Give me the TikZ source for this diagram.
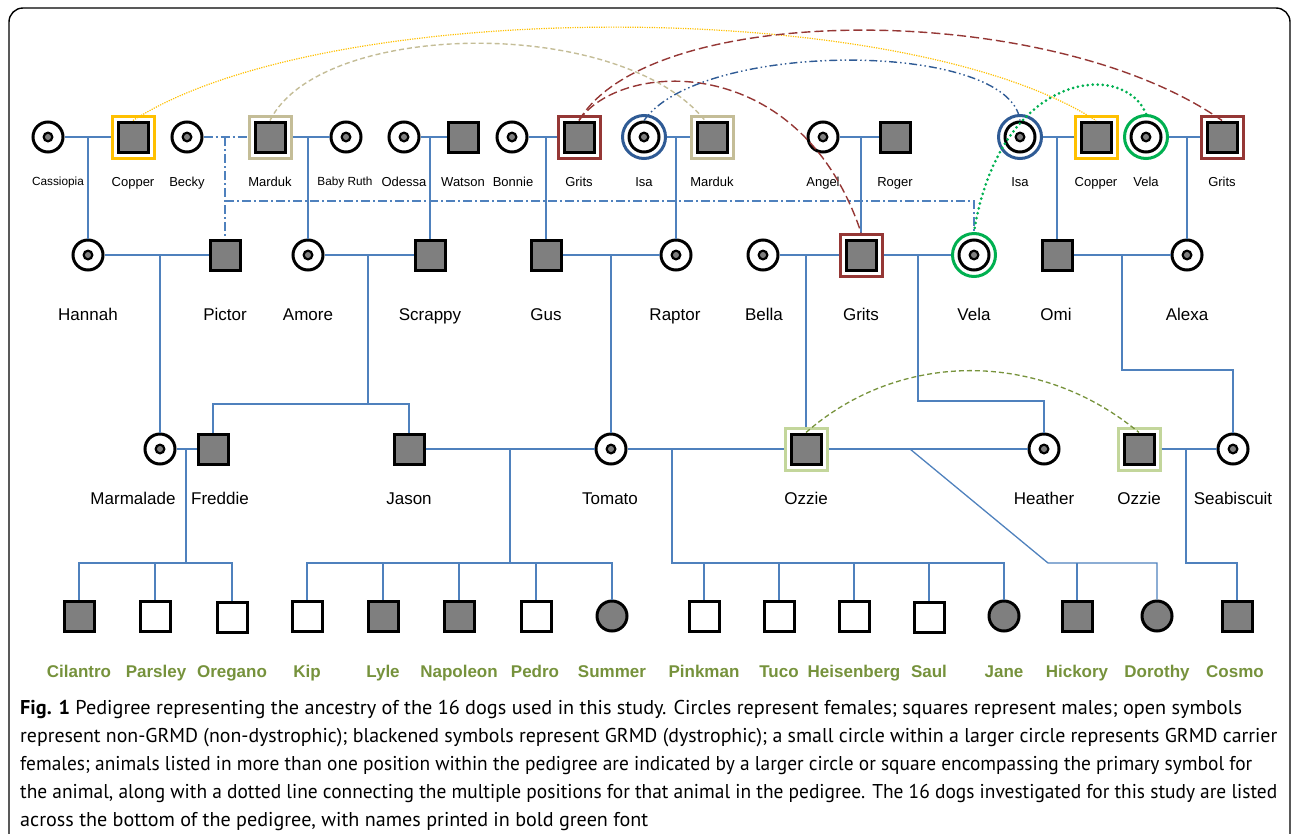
\documentclass[tikz,border=0pt]{standalone}
\usepackage{xcolor}
\definecolor{LinkBlue}{HTML}{4F81BD}
\definecolor{SymGray}{HTML}{7F7F7F}
\definecolor{CopperGold}{HTML}{FFC000}
\definecolor{MardukTan}{HTML}{C4BD97}
\definecolor{GritsRed}{HTML}{953735}
\definecolor{IsaBlue}{HTML}{2F5B95}
\definecolor{VelaGreen}{HTML}{00B050}
\definecolor{OzzieGreen}{HTML}{C3D69B}
\definecolor{OzzieLink}{HTML}{77933C}
\definecolor{StudyGreen}{HTML}{76923C}
\usepackage{graphicx}
\usepackage{fontspec}
\setmainfont{Liberation Sans}
\newfontfamily\capfont{PT Sans}
\usepackage{tikz}
\usetikzlibrary{calc}

% one caption line, set to the width it has in the figure
\newcommand{\capline}[2]{\resizebox{#1}{\height}{#2}}

\tikzset{
  male/.style={rectangle,draw=black,line width=3pt,fill=SymGray,minimum size=30pt,inner sep=0pt},
  openmale/.style={male,fill=white},
  female/.style={circle,draw=black,line width=3pt,fill=SymGray,minimum size=30pt,inner sep=0pt},
  carrier/.style={female,fill=white,path picture={
      \fill[black] (path picture bounding box.center) circle (5.5pt);
      \fill[SymGray] (path picture bounding box.center) circle (3pt);}},
  sqring/.style={rectangle,draw=#1,line width=3pt,fill=white,minimum size=42pt,inner sep=0pt},
  ciring/.style={circle,draw=#1,line width=3pt,fill=white,minimum size=43pt,inner sep=0pt},
  link/.style={LinkBlue,line width=1.3pt},
  linkdd/.style={link,dash pattern=on 9pt off 3pt on 2pt off 3pt},
  nameA/.style={anchor=base,inner sep=0pt,font=\fontsize{13}{15}\selectfont},
  nameB/.style={anchor=base,inner sep=0pt,font=\fontsize{17}{20}\selectfont},
  study/.style={anchor=base,inner sep=0pt,font=\fontsize{17}{20}\selectfont\bfseries,text=StudyGreen},
  captext/.style={anchor=base west,inner sep=0pt,font=\capfont\fontsize{20}{23}\selectfont}
}

\begin{document}
\begin{tikzpicture}[x=1pt,y=-1pt]
  \useasboundingbox (0,0) rectangle (1292,833);
  \draw[line width=1.4pt,rounded corners=14pt] (9,8) rectangle (1290,850);

  % first generation
  \node[carrier] (cassiopia) at (48,137) {};
  \node[sqring=CopperGold] (copperAr) at (133,137) {};
  \node[male] (copperA) at (133,137) {};
  \node[carrier] (becky) at (187,137) {};
  \node[sqring=MardukTan] (mardukAr) at (270,137) {};
  \node[male] (mardukA) at (270,137) {};
  \node[carrier] (babyruth) at (346,137) {};
  \node[carrier] (odessa) at (404,137) {};
  \node[male] (watson) at (463,137) {};
  \node[carrier] (bonnie) at (512,137) {};
  \node[sqring=GritsRed] (gritsAr) at (579,137) {};
  \node[male] (gritsA) at (579,137) {};
  \node[ciring=IsaBlue] (isaAr) at (644,137) {};
  \node[carrier] (isaA) at (644,137) {};
  \node[sqring=MardukTan] (mardukBr) at (712,137) {};
  \node[male] (mardukB) at (712,137) {};
  \node[carrier] (angel) at (823,137) {};
  \node[male] (roger) at (895,137) {};
  \node[ciring=IsaBlue] (isaBr) at (1020,137) {};
  \node[carrier] (isaB) at (1020,137) {};
  \node[sqring=CopperGold] (copperBr) at (1096,137) {};
  \node[male] (copperB) at (1096,137) {};
  \node[ciring=VelaGreen] (velaAr) at (1146,137) {};
  \node[carrier] (velaA) at (1146,137) {};
  \node[sqring=GritsRed] (gritsBr) at (1222,137) {};
  \node[male] (gritsB) at (1222,137) {};

  \node[nameA,font=\fontsize{11.8}{14}\selectfont] (cassiopiaT) at (58,185) {Cassiopia};
  \node[nameA,font=\fontsize{11.8}{14}\selectfont] (babyruthT) at (345,185) {Baby Ruth};
  \foreach \x/\t [count=\i] in {133/Copper,187/Becky,270/Marduk,404/Odessa,463/Watson,513/Bonnie,
      579/Grits,644/Isa,712/Marduk,823/Angel,895/Roger,1020/Isa,1096/Copper,1146/Vela,1222/Grits}
    \node[nameA] (topT\i) at (\x,186) {\t};

  % second generation
  \node[carrier] (hannah) at (88,255) {};
  \node[male] (pictor) at (225,255) {};
  \node[carrier] (amore) at (308,255) {};
  \node[male] (scrappy) at (430,255) {};
  \node[male] (gus) at (546,255) {};
  \node[carrier] (raptor) at (676,255) {};
  \node[carrier] (bella) at (763,255) {};
  \node[sqring=GritsRed] (gritsCr) at (861,255) {};
  \node[male] (gritsC) at (861,255) {};
  \node[ciring=VelaGreen] (velaBr) at (974,255) {};
  \node[carrier] (velaB) at (974,255) {};
  \node[male] (omi) at (1057,255) {};
  \node[carrier] (alexa) at (1187,255) {};

  \foreach \x/\t [count=\i] in {88/Hannah,225/Pictor,308/Amore,430/Scrappy,546/Gus,675/Raptor,
      764/Bella,861/Grits,974/Vela,1056/Omi,1187/Alexa}
    \node[nameB] (midT\i) at (\x,320) {\t};

  % third generation
  \node[carrier] (marmalade) at (160,449) {};
  \node[male] (freddie) at (213,449) {};
  \node[male] (jason) at (409,449) {};
  \node[carrier] (tomato) at (611,449) {};
  \node[sqring=OzzieGreen] (ozzieAr) at (806,449) {};
  \node[male] (ozzieA) at (806,449) {};
  \node[carrier] (heather) at (1044,449) {};
  \node[sqring=OzzieGreen] (ozzieBr) at (1139,449) {};
  \node[male] (ozzieB) at (1139,449) {};
  \node[carrier] (seabiscuit) at (1233,449) {};

  \foreach \x/\t [count=\i] in {133/Marmalade,220/Freddie,409/Jason,610/Tomato,806/Ozzie,
      1044/Heather,1139/Ozzie,1233/Seabiscuit}
    \node[nameB] (lowT\i) at (\x,504) {\t};

  % the 16 study dogs
  \node[male] (cilantro) at (79,616) {};
  \node[openmale] (parsley) at (155,616) {};
  \node[openmale] (oregano) at (232,617) {};
  \node[openmale] (kip) at (307,616) {};
  \node[male] (lyle) at (383,616) {};
  \node[male] (napoleon) at (459,616) {};
  \node[openmale] (pedro) at (536,616) {};
  \node[female] (summer) at (612,616) {};
  \node[openmale] (pinkman) at (704,616) {};
  \node[openmale] (tuco) at (779,616) {};
  \node[openmale] (heisenberg) at (854,616) {};
  \node[openmale] (saul) at (929,617) {};
  \node[female] (jane) at (1004,616) {};
  \node[male] (hickory) at (1077,616) {};
  \node[female] (dorothy) at (1157,616) {};
  \node[male] (cosmo) at (1237,616) {};

  \foreach \x/\t [count=\i] in {79/Cilantro,156/Parsley,232/Oregano,307/Kip,383/Lyle,459/Napoleon,
      535/Pedro,612/Summer,704/Pinkman,779/Tuco,854/Heisenberg,929/Saul,1004/Jane,1077/Hickory,
      1157/Dorothy,1235/Cosmo}
    \node[study] (dogT\i) at (\x,677) {\t};

  % matings, first generation
  \draw[link] (cassiopia) -- (copperAr);
  \draw[link] (hannah |- cassiopia) -- (hannah);
  \draw[linkdd] (becky) -- (mardukAr);
  \draw[linkdd] (pictor |- becky) -- (pictor);
  \draw[linkdd] (pictor |- 0,201) -- (velaBr |- 0,201) -- (velaBr);
  \draw[link] (mardukAr) -- (babyruth);
  \draw[link] (amore |- babyruth) -- (amore);
  \draw[link] (odessa) -- (watson);
  \draw[link] (scrappy |- watson) -- (scrappy);
  \draw[link] (bonnie) -- (gritsAr);
  \draw[link] (gus |- bonnie) -- (gus);
  \draw[link] (isaAr) -- (mardukBr);
  \draw[link] (raptor |- isaAr) -- (raptor);
  \draw[link] (angel) -- (roger);
  \draw[link] (gritsCr |- angel) -- (gritsCr);
  \draw[link] (isaBr) -- (copperBr);
  \draw[link] (omi |- isaBr) -- (omi);
  \draw[link] (velaAr) -- (gritsBr);
  \draw[link] (alexa |- velaAr) -- (alexa);

  % matings, second generation
  \draw[link] (hannah) -- (pictor);
  \draw[link] (marmalade |- hannah) -- (marmalade);
  \draw[link] (amore) -- (scrappy);
  \coordinate (amsc) at (368,404);
  \draw[link] (amsc |- amore) -- (amsc);
  \draw[link] (freddie) |- (amsc) -| (jason);
  \draw[link] (gus) -- (raptor);
  \draw[link] (tomato |- gus) -- (tomato);
  \draw[link] (bella) -- (gritsCr);
  \draw[link] (ozzieAr |- bella) -- (ozzieAr);
  \draw[link] (gritsCr) -- (velaBr);
  \coordinate (grve) at (918,401);
  \draw[link] (grve |- gritsCr) -- (grve) -| (heather);
  \draw[link] (omi) -- (alexa);
  \coordinate (omal) at (1122,370);
  \draw[link] (omal |- omi) -- (omal) -| (seabiscuit);

  % matings, third generation
  \draw[link] (marmalade) -- (freddie);
  \coordinate (mafr) at (186,563);
  \draw[link] (mafr |- marmalade) -- (mafr);
  \draw[link] (cilantro) |- (mafr) -| (oregano);
  \draw[link] (parsley |- mafr) -- (parsley);
  \draw[link] (jason) -- (tomato);
  \coordinate (jato) at (510,563);
  \draw[link] (jato |- jason) -- (jato);
  \draw[link] (kip) |- (jato) -| (summer);
  \foreach \k in {lyle,napoleon,pedro}
    \draw[link] (\k |- jato) -- (\k);
  \draw[link] (tomato) -- (ozzieAr);
  \coordinate (tooz) at (672,563);
  \draw[link] (tooz |- tomato) -- (tooz) -| (jane);
  \foreach \k in {pinkman,tuco,heisenberg,saul}
    \draw[link] (\k |- tooz) -- (\k);
  \draw[link] (ozzieAr) -- (heather);
  \coordinate (ozheA) at (910,449);
  \coordinate (ozheB) at (1048,563);
  \draw[link] (ozheA) -- (ozheB) -| (dorothy);
  \draw[link] (hickory |- ozheB) -- (hickory);
  \draw[link] (ozzieBr) -- (seabiscuit);
  \coordinate (ozse) at (1186,563);
  \draw[link] (ozse |- ozzieBr) -- (ozse) -| (cosmo);

  % same animal in more than one place
  \draw[CopperGold,line width=1.2pt,dash pattern=on 1.2pt off 1.2pt] (copperA.north) .. controls (327,-4) and (902,-4) .. (copperB.north);
  \draw[MardukTan,line width=1.4pt,dash pattern=on 5pt off 3pt] (mardukA.north) .. controls (320,20) and (620,15) .. ([xshift=-7pt]mardukB.north);
  \draw[GritsRed,line width=1.4pt,dash pattern=on 9pt off 4pt] (gritsA.north) .. controls (650,0) and (1050,0) .. (gritsB.north);
  \draw[GritsRed,line width=1.4pt,dash pattern=on 9pt off 4pt] (gritsA.north) .. controls (620,60) and (800,50) .. (gritsCr.north);
  \draw[IsaBlue,line width=1.4pt,dash pattern=on 8pt off 3pt on 1.5pt off 3pt on 1.5pt off 3pt] (isaA.north) .. controls (700,40) and (1010,40) .. (isaB.north);
  \draw[VelaGreen,line width=3pt,line cap=round,dash pattern=on 0pt off 5pt] (velaAr.north) .. controls (1125,60) and (1000,70) .. (velaBr.north);
  \draw[OzzieLink,line width=1.3pt,dash pattern=on 5pt off 3pt] (ozzieA.north) .. controls (900,350) and (1040,350) .. (ozzieB.north);

  % caption
  \node[captext] (cap1) at (20,714) {\capline{1222pt}{\textbf{Fig. 1} Pedigree representing the ancestry of the 16 dogs used in this study. Circles represent females; squares represent males; open symbols}};
  \node[captext] (cap2) at (20,742) {\capline{1257pt}{represent non-GRMD (non-dystrophic); blackened symbols represent GRMD (dystrophic); a small circle within a larger circle represents GRMD carrier}};
  \node[captext] (cap3) at (20,770) {\capline{1232pt}{females; animals listed in more than one position within the pedigree are indicated by a larger circle or square encompassing the primary symbol for}};
  \node[captext] (cap4) at (20,798) {\capline{1257pt}{the animal, along with a dotted line connecting the multiple positions for that animal in the pedigree. The 16 dogs investigated for this study are listed}};
  \node[captext] (cap5) at (20,826) {\capline{628pt}{across the bottom of the pedigree, with names printed in bold green font}};
\end{tikzpicture}
\end{document}
